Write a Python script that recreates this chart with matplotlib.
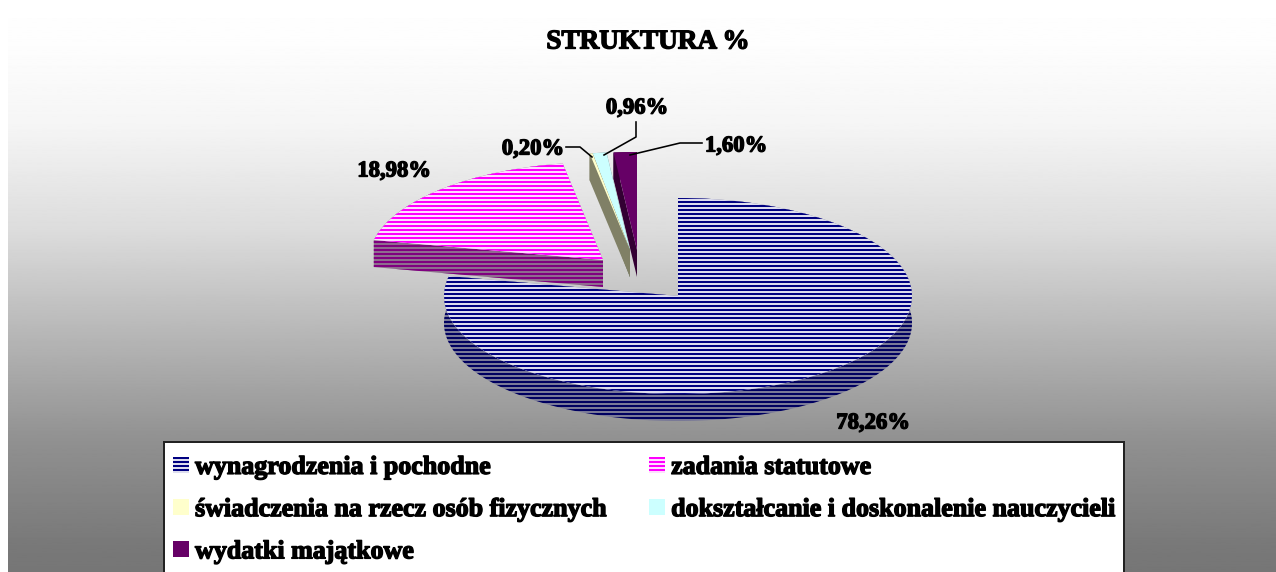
import matplotlib
matplotlib.use("Agg")
import matplotlib.pyplot as plt
import matplotlib.patheffects as pe
from matplotlib.patches import Rectangle
import numpy as np

categories = ["wynagrodzenia i pochodne", "zadania statutowe", "świadczenia na rzecz osób fizycznych",
              "dokształcanie i doskonalenie nauczycieli", "wydatki majątkowe"]
values = [78.26, 18.98, 0.20, 0.96, 1.60]
value_labels = ["78,26%", "18,98%", "0,20%", "0,96%", "1,60%"]
title = "STRUKTURA %"

top_colors = ["#000080", "#ff00ff", "#ffffcc", "#ccffff", "#660066"]
hatch_bg = ["#ffffff", "#ffffff", "#ffffcc", "#ccffff", "#660066"]
wall_colors = ["#000060", "#800080", "#808066", "#668080", "#330033"]
wall_bg = ["#8c8ca0", "#908090", "#808066", "#668080", "#330033"]
hatches = ["----", "----", None, None, None]

W, H = 1276, 572
DPI = 96
CX, CY = 678, 296   # centre of the big slice in px
RX, RY = 234, 98    # pie ellipse radii in px
DEPTH = 27

plt.rcParams["hatch.linewidth"] = 1.7
plt.rcParams["font.family"] = ["Liberation Serif", "DejaVu Serif"]

def to_x(px):
    return (px - CX) / RX

def to_y(py):
    return (CY - py) / RY

fig = plt.figure(figsize=(W / DPI, H / DPI), dpi=DPI)
ax = fig.add_axes([0, 0, 1, 1])

# the pie gives the angles, then the axes squash it into an ellipse
wedges, _ = ax.pie(values, startangle=90, counterclock=False, colors=top_colors, radius=1.0)
ax.set_aspect("auto")
ax.set_axis_on()

# background gradient, grey levels read at a few heights
rows = np.arange(H)
grey = np.interp(rows, [18, 110, 219, 328, 438, 547, 572], [254, 245, 220, 182, 144, 120, 118]) / 255
ax.imshow(grey.reshape(-1, 1), cmap="gray", vmin=0, vmax=1, aspect="auto", zorder=0,
          extent=(to_x(8), to_x(W), to_y(H), to_y(18)), origin="upper")
ax.set_xlim(to_x(0), to_x(W))
ax.set_ylim(to_y(H), to_y(0))

# apex of every slice after pulling it away, px
apex = [(678, 296), (603, 260), (630, 250), (630, 250), (637, 250)]
groups = [1, 2, 5, 4, 3]   # drawing order low to high
dep = DEPTH / RY

for i, w in enumerate(wedges):
    x0, y0 = to_x(apex[i][0]), to_y(apex[i][1])
    w.set_center((x0, y0))
    w.set_facecolor(hatch_bg[i])
    w.set_edgecolor(top_colors[i])
    w.set_linewidth(0)
    if hatches[i]:
        w.set_hatch(hatches[i])
    w.set_zorder(groups[i] * 10 + 1)
    # side walls: outer arc band and the two cut edges
    th = np.radians(np.linspace(w.theta1, w.theta2, 200))
    ax_, ay_ = x0 + np.cos(th), y0 + np.sin(th)
    bands = [(np.r_[ax_, ax_[::-1]], np.r_[ay_, ay_[::-1] - dep]),
             (np.array([x0, ax_[0], ax_[0], x0]), np.array([y0, ay_[0], ay_[0] - dep, y0 - dep])),
             (np.array([x0, ax_[-1], ax_[-1], x0]), np.array([y0, ay_[-1], ay_[-1] - dep, y0 - dep]))]
    for bx, by in bands:
        ax.fill(bx, by, facecolor=wall_bg[i], edgecolor=wall_colors[i], linewidth=0,
                hatch=hatches[i], zorder=groups[i] * 10)

stroke = [pe.withStroke(linewidth=1.0, foreground="black")]

# value labels
label_pos = [(873, 423), (394, 171), (533, 149), (637, 108), (736, 146)]
for txt, (px, py) in zip(value_labels, label_pos):
    ax.text(to_x(px), to_y(py), txt, ha="center", va="center", fontsize=17, fontweight="bold",
            color="black", path_effects=stroke, zorder=100)

# leader lines
leaders = [[(566, 147), (580, 147), (592, 157)],
           [(636, 122), (636, 137), (604, 155)],
           [(702, 143), (680, 143), (630, 155)]]
for line in leaders:
    ax.plot([to_x(p[0]) for p in line], [to_y(p[1]) for p in line], color="black", lw=1.2, zorder=90)

fig.text(648 / W, 1 - 42 / H, title, ha="center", va="center", fontsize=20.4, fontweight="bold",
         path_effects=stroke)

# legend box runs off the bottom of the picture, so it is drawn apart from the legend
ax.add_patch(Rectangle((to_x(164), to_y(H + 10)), (1124 - 164) / RX, (H + 10 - 442) / RY,
                       facecolor="white", edgecolor="#222222", linewidth=1.5, zorder=150))

order = [0, 2, 4, 1, 3]
leg = ax.legend([wedges[i] for i in order], [categories[i] for i in order], ncols=2,
                loc="upper left", bbox_to_anchor=(162 / W, 1 - 445 / H), bbox_transform=fig.transFigure,
                frameon=False, prop={"size": 19.5, "weight": "bold"}, handlelength=0.6, handleheight=0.6,
                handletextpad=0.25, labelspacing=0.74, columnspacing=1.62, borderpad=0.42, borderaxespad=0)
leg.set_zorder(200)
for t in leg.get_texts():
    t.set_path_effects(stroke)

ax.set_axis_off()
fig.savefig("out.png", dpi=DPI)
